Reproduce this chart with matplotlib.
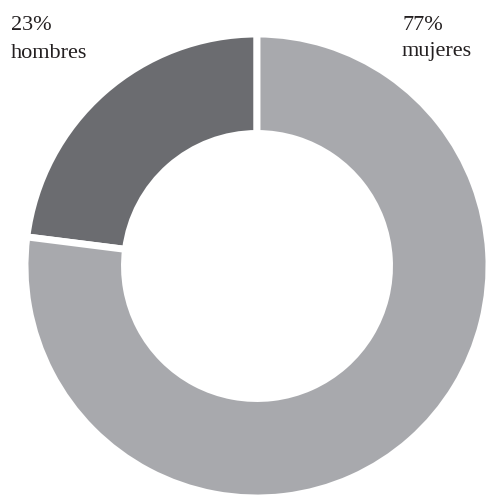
import matplotlib
matplotlib.use("Agg")
import matplotlib.pyplot as plt

categories = ["hombres", "mujeres"]
values = [23, 77]
colors = ["#6b6c70", "#a8a9ad"]

W, H = 486, 496
fig = plt.figure(figsize=(W / 100, H / 100), dpi=100)
ax = fig.add_axes([0, 0, 1, 1])

cx, cy = 257, H - 266
ax.pie(values, colors=colors, startangle=90, counterclock=True,
       center=(cx, cy), radius=232,
       wedgeprops=dict(width=99.5, edgecolor="white", linewidth=5))
ax.set_xlim(0, W)
ax.set_ylim(0, H)
ax.set_aspect("auto")
ax.axis("off")

font = dict(family=["Liberation Serif", "DejaVu Serif"], fontsize=16, color="#231f20")
ax.text(11, H - 30, f"{values[0]}%", ha="left", va="baseline", **font)
ax.text(11, H - 58, categories[0], ha="left", va="baseline", **font)
ax.text(402, H - 30, f"{values[1]}%", ha="left", va="baseline", **font)
ax.text(402, H - 56, categories[1], ha="left", va="baseline", **font)

fig.savefig("out.png", dpi=100)
